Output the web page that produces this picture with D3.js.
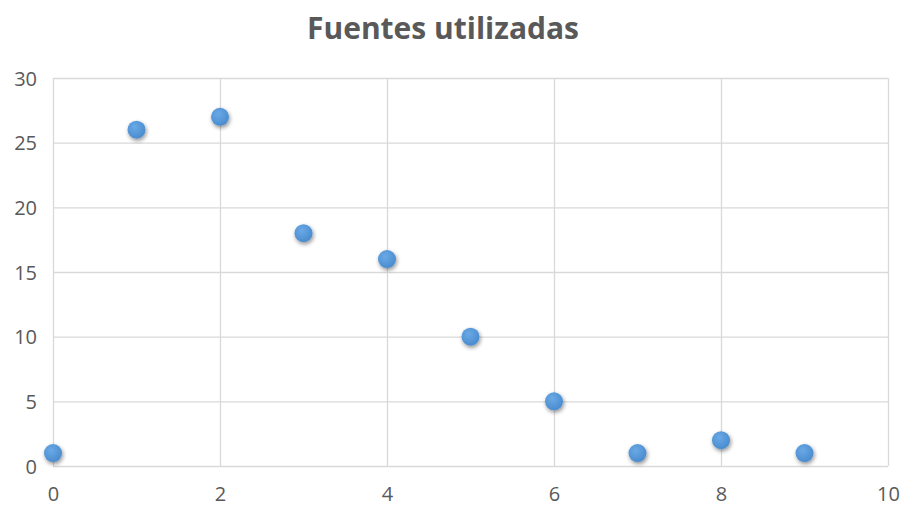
<!DOCTYPE html>
<html><head><meta charset="utf-8">
<script src="https://cdn.jsdelivr.net/npm/d3@7"></script>
<style>body{margin:0;background:#fff}svg{display:block}</style>
</head><body>
<svg id="c" width="906" height="507"></svg>
<script>
const xValues = [0,1,2,3,4,5,6,7,8,9];
const yValues = [1,26,27,18,16,10,5,1,2,1];
const xTicks = [0,2,4,6,8,10];
const yTicks = [0,5,10,15,20,25,30];
const title = "Fuentes utilizadas";

const svg = d3.select("#c");
const m = {l:53, r:888, t:78, b:466};
const x = d3.scaleLinear().domain([0,10]).range([m.l, m.r]);
const y = d3.scaleLinear().domain([0,30]).range([m.b, m.t]);

const defs = svg.append("defs");
const f = defs.append("filter").attr("id","sh").attr("x","-50%").attr("y","-50%").attr("width","200%").attr("height","200%");
f.append("feGaussianBlur").attr("in","SourceAlpha").attr("stdDeviation",2).attr("result","b");
f.append("feOffset").attr("in","b").attr("dx",1).attr("dy",2).attr("result","o");
f.append("feComponentTransfer").attr("in","o").attr("result","o2").append("feFuncA").attr("type","linear").attr("slope",0.45);
const mg = f.append("feMerge"); mg.append("feMergeNode").attr("in","o2"); mg.append("feMergeNode").attr("in","SourceGraphic");
const g = defs.append("radialGradient").attr("id","gr").attr("cx","40%").attr("cy","35%").attr("r","65%");
g.append("stop").attr("offset","0%").attr("stop-color","#6aa9e6");
g.append("stop").attr("offset","100%").attr("stop-color","#4a8ccf");

svg.append("g").attr("transform",`translate(0,${m.b})`)
  .call(d3.axisBottom(x).tickValues(xTicks).tickSize(-(m.b-m.t)).tickFormat(d3.format("d")))
  .call(a=>{a.select(".domain").remove();
    a.selectAll("line").attr("stroke","#d9d9d9").attr("stroke-width",1.3);
    a.selectAll("text").attr("fill","#595959").attr("font-size",20).attr("font-family","'Open Sans', sans-serif").attr("y",0).attr("dy","1.75em");});
svg.append("g").attr("transform",`translate(${m.l},0)`)
  .call(d3.axisLeft(y).tickValues(yTicks).tickSize(-(m.r-m.l)).tickFormat(d3.format("d")))
  .call(a=>{a.select(".domain").remove();
    a.selectAll("line").attr("stroke","#d9d9d9").attr("stroke-width",1.3);
    a.selectAll("text").attr("fill","#595959").attr("font-size",20).attr("font-family","'Open Sans', sans-serif").attr("x",-16).attr("dy","0.35em");});

svg.append("text").attr("x",443).attr("y",39).attr("text-anchor","middle")
  .attr("font-family","'Open Sans', sans-serif").attr("font-weight","bold").attr("font-size",30)
  .attr("fill","#595959").text(title);

svg.append("g").selectAll("circle").data(xValues.map((v,i)=>[v,yValues[i]])).join("circle")
  .attr("cx",d=>x(d[0])).attr("cy",d=>y(d[1])).attr("r",9)
  .attr("fill","url(#gr)").attr("filter","url(#sh)");
</script>
</body></html>
